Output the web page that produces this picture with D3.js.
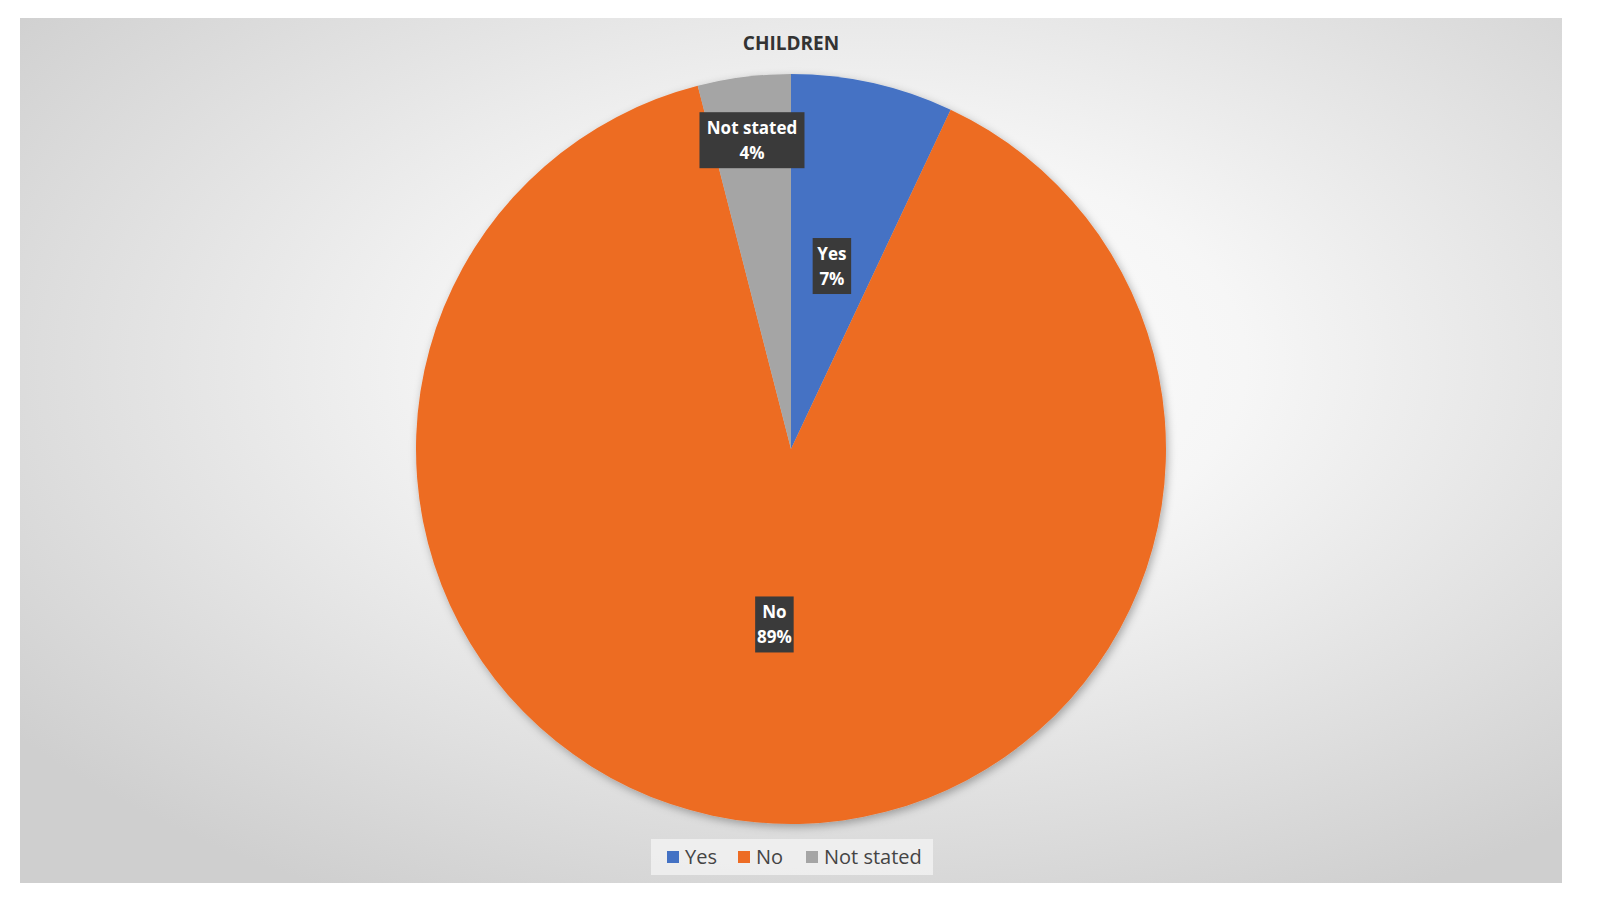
<!DOCTYPE html>
<html><head><meta charset="utf-8">
<script src="https://cdn.jsdelivr.net/npm/d3@7"></script>
<style>html,body{margin:0;overflow:hidden;background:#fff;font-family:"Open Sans","Noto Sans",sans-serif}svg{display:block}</style>
</head><body><svg id="c" width="1604" height="907"></svg>
<script>
const categories = ["Yes","No","Not stated"];
const values = [7,89,4];
const colors = ["#4472C4","#ED6C24","#A5A5A5"];
const labelRadius = [0.5,0.47,0.83];

const svg = d3.select("#c");
const defs = svg.append("defs");
const g = defs.append("radialGradient").attr("id","bg").attr("cx","55%").attr("cy","40%").attr("r","70%");
g.append("stop").attr("offset","0%").attr("stop-color","#ffffff");
g.append("stop").attr("offset","35%").attr("stop-color","#f6f6f6");
g.append("stop").attr("offset","100%").attr("stop-color","#cfcfcf");
const f = defs.append("filter").attr("id","sh").attr("x","-10%").attr("y","-10%").attr("width","120%").attr("height","120%");
f.append("feDropShadow").attr("dx",2).attr("dy",3).attr("stdDeviation",4).attr("flood-color","#000").attr("flood-opacity",0.3);

svg.append("rect").attr("x",20).attr("y",18).attr("width",1542).attr("height",865).attr("fill","url(#bg)");

svg.append("text").attr("x",791).attr("y",50).attr("text-anchor","middle")
  .attr("font-size",19).attr("font-weight","bold").attr("fill","#333").text("CHILDREN");

const cx=791, cy=449, R=375;
const pie = d3.pie().sort(null).value(d=>d)(values);
const arc = d3.arc().innerRadius(0).outerRadius(R);
const pg = svg.append("g").attr("transform",`translate(${cx},${cy})`);
pg.append("g").attr("filter","url(#sh)").selectAll("path").data(pie).join("path")
  .attr("d",arc).attr("fill",(d,i)=>colors[i]);

pie.forEach((d,i)=>{
  const a = d3.arc().innerRadius(R*labelRadius[i]).outerRadius(R*labelRadius[i]);
  const [x,y] = a.centroid(d);
  const lg = pg.append("g").attr("transform",`translate(${x},${y})`);
  const lines=[categories[i], values[i]+"%"];
  const w = Math.max(...lines.map(l=>l.length))*9.5+10;
  lg.append("rect").attr("x",-w/2).attr("y",-28).attr("width",w).attr("height",56).attr("fill","#3a3a3a");
  lines.forEach((l,j)=>lg.append("text").attr("y",-6+j*25).attr("text-anchor","middle")
    .attr("font-size",17).attr("font-weight","bold").attr("fill","#fff").text(l));
});

const leg = svg.append("g");
leg.append("rect").attr("x",651).attr("y",839).attr("width",282).attr("height",36).attr("fill","#f2f2f2").attr("opacity",0.8);
const lx=[667,738,806];
categories.forEach((c,i)=>{
  leg.append("rect").attr("x",lx[i]).attr("y",851).attr("width",12).attr("height",12).attr("fill",colors[i]);
  leg.append("text").attr("x",lx[i]+18).attr("y",864).attr("font-size",20).attr("fill","#444").text(c);
});
</script></body></html>
